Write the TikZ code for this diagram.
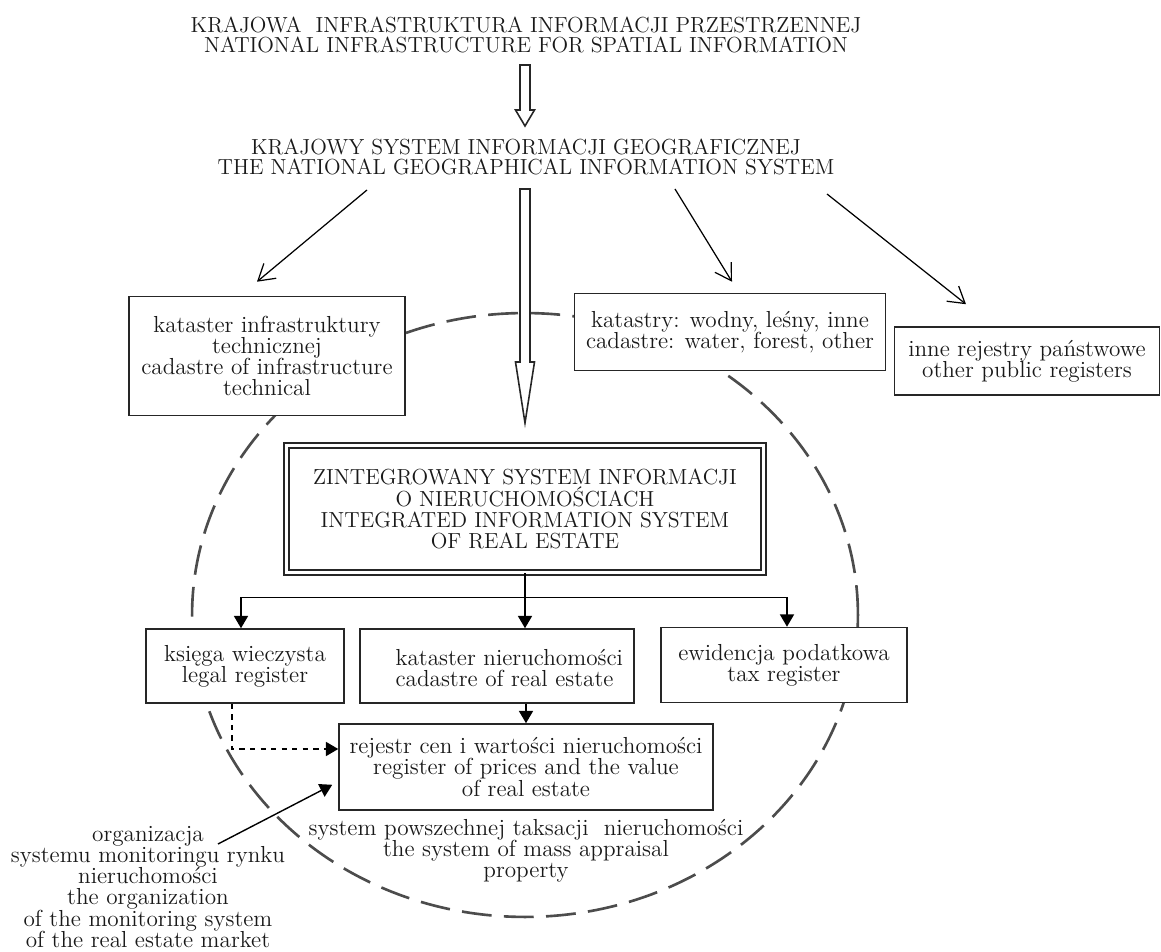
\documentclass[tikz,border=0pt]{standalone}
\usepackage{fontspec}
\usepackage{tikz}
\usetikzlibrary{positioning,calc,arrows.meta}

\tikzset{
  caps/.style={font=\fontsize{12.4}{11.4}\selectfont, align=center, inner sep=0pt, text=black!90},
  txt/.style={font=\fontsize{13.2}{12}\selectfont, align=center, inner sep=0pt, text=black!90},
  regbox/.style={txt, draw=black!85, fill=white, line width=0.9pt},
  thinarr/.style={line width=0.7pt, -{Straight Barb[length=9pt,width=11pt]}},
  arr/.style={line width=0.8pt, -{Triangle[length=7pt,width=8pt]}},
  hollow/.style={draw=black!85, fill=white, line width=0.9pt},
  circ/.style={draw=black!70, line width=1.5pt, dash pattern=on 17pt off 7pt},
}

\begin{document}
\begin{tikzpicture}[x=0.02cm,y=-0.02cm]
  \useasboundingbox (0,0) rectangle (1161,952);

  % Dashed boundary: system of mass appraisal
  \draw[circ] (525,615) ellipse [x radius=6.66cm, y radius=6.04cm];

  % Headings
  \node[caps] (kiip) at (526,35) {KRAJOWA~ INFRASTRUKTURA INFORMACJI PRZESTRZENNEJ\\NATIONAL INFRASTRUCTURE FOR SPATIAL INFORMATION};
  \node[caps] (ksig) at (526,157) {KRAJOWY SYSTEM INFORMACJI GEOGRAFICZNEJ\\THE NATIONAL GEOGRAPHICAL INFORMATION SYSTEM};

  % Registers under the national GIS
  \node[regbox, minimum width=5.52cm, minimum height=2.38cm] (kit) at (267,356) {kataster infrastruktury\\technicznej\\cadastre of infrastructure\\technical};
  \node[regbox, minimum width=6.22cm, minimum height=1.54cm] (kat) at (730,332) {katastry: wodny, leśny, inne\\cadastre: water, forest, other};
  \node[regbox, minimum width=5.3cm, minimum height=1.36cm] (irp) at (1027,361) {inne rejestry państwowe\\other public registers};

  % Integrated system
  \node[caps, draw=black!85, fill=white, double, double distance=2pt, line width=1pt,
        minimum width=9.54cm, minimum height=2.54cm, font=\fontsize{12.4}{12}\selectfont] (zsin) at (525,509)
        {ZINTEGROWANY SYSTEM INFORMACJI\\O NIERUCHOMOŚCIACH\\INTEGRATED INFORMATION SYSTEM\\OF REAL ESTATE};

  % Lower registers
  \node[regbox, minimum width=3.96cm, minimum height=1.48cm] (kw) at (245,666) {księga wieczysta\\legal register};
  \node[regbox, minimum width=5.48cm, minimum height=1.48cm] (kn) at (497,666) {};
  \node[txt, anchor=west, align=left] (kntxt) at ($(kn.west)+(36,2)$) {kataster nieruchomości\\cadastre of real estate};
  \node[regbox, minimum width=4.92cm, minimum height=1.5cm] (ep) at (784,665) {ewidencja podatkowa\\tax register};
  \node[regbox, minimum width=7.48cm, minimum height=1.72cm] (rcw) at (526,767) {rejestr cen i wartości nieruchomości\\register of prices and the value\\of real estate};

  % Labels
  \node[txt] (spt) at (526,851) {system powszechnej taksacji~ nieruchomości\\the system of mass appraisal\\property};
  \node[txt] (osm) at (148,887) {organizacja\\systemu monitoringu rynku\\nieruchomości\\the organization\\of the monitoring system\\of the real estate market};

  % Hollow arrows
  \coordinate (h1a) at (525,65);
  \coordinate (h1b) at (525,126);
  \draw[hollow] ($(h1a)+(-5,0)$) -- ($(h1a)+(5,0)$) -- ($(h1b)+(5,-16)$) -- ($(h1b)+(9.5,-16)$) -- (h1b)
    -- ($(h1b)+(-9.5,-16)$) -- ($(h1b)+(-5,-16)$) -- cycle;
  \coordinate (h2a) at (525,189);
  \coordinate (h2b) at (525,423);
  \draw[hollow] ($(h2a)+(-5,0)$) -- ($(h2a)+(5,0)$) -- ($(h2b)+(5,-61)$) -- ($(h2b)+(9.5,-61)$) -- (h2b)
    -- ($(h2b)+(-9.5,-61)$) -- ($(h2b)+(-5,-61)$) -- cycle;

  % Thin arrows from the national GIS
  \coordinate (s1) at (367,190);
  \coordinate (s2) at (675,189);
  \coordinate (s3) at (827,194);
  \draw[thinarr] (s1) -- ($(kit.north)+(-10,-14)$);
  \draw[thinarr] (s2) -- ($(kat.north)+(2,-11)$);
  \draw[thinarr] (s3) -- ($(irp.north)+(-61,-22)$);

  % Tree below the integrated system
  \coordinate (bus) at ($(zsin.south)+(0,24)$);
  \draw[arr] (zsin.south) -- (zsin.south |- kn.north);
  \draw[arr] (bus) -| ($(kw.north)+(-4,0)$);
  \draw[arr] (bus) -| ($(ep.north)+(3,0)$);
  \draw[arr] (rcw.north |- kn.south) -- (rcw.north);
  \draw[arr, dashed] ($(kw.south)+(-13,0)$) |- ($(rcw.west)+(0,-18)$);

  % Monitoring arrow
  \coordinate (om) at (218,844);
  \draw[arr] (om) -- ($(rcw.south west)+(-6,-26)$);
\end{tikzpicture}
\end{document}
